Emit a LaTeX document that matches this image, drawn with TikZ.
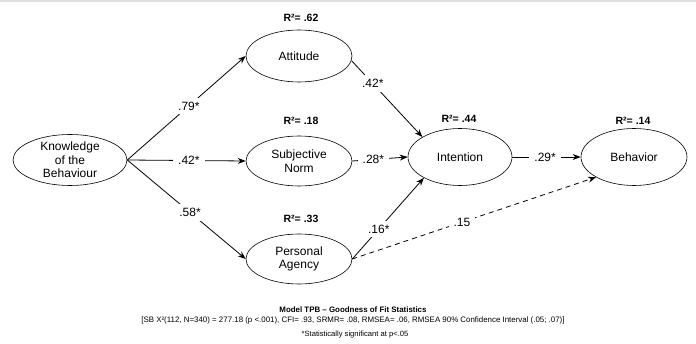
\documentclass[tikz,border=0pt]{standalone}
\usepackage{fontspec}
\setmainfont{Liberation Sans}
\usetikzlibrary{shapes.geometric,arrows.meta}
\tikzset{
  var/.style={draw, ellipse, inner sep=0pt, line width=0.6pt, font=\fontsize{12}{13.5}\selectfont, align=center},
  rsq/.style={font=\bfseries\fontsize{10.5}{12}\selectfont},
  path/.style={draw, line width=0.8pt, -{Stealth[length=8pt,width=6pt]}},
  coef/.style={fill=white, inner xsep=5pt, inner ysep=4pt, font=\fontsize{12}{13}\selectfont},
  note/.style={font=\fontsize{7.9}{8.5}\selectfont}
}
\begin{document}
\begin{tikzpicture}[x=1pt,y=-1pt]
\useasboundingbox (0,0) rectangle (696,344);
\fill[white] (0,0) rectangle (696,344);
\draw[gray!25, line width=1.2pt] (0,1) -- (696,1);

\node[var, minimum width=114pt, minimum height=51pt] (K) at (70,160) {Knowledge\\of the\\Behaviour};
\node[var, minimum width=106pt, minimum height=52pt] (A) at (299,56) {Attitude};
\node[var, minimum width=106pt, minimum height=50pt] (S) at (299,161) {Subjective\\Norm};
\node[var, minimum width=106pt, minimum height=50pt] (P) at (299,259) {Personal\\Agency};
\node[var, minimum width=104pt, minimum height=57pt] (I) at (460,157) {Intention};
\node[var, minimum width=106pt, minimum height=57pt] (B) at (634,157) {Behavior};

\node[rsq] (rA) at (301,18) {R²= .62};
\node[rsq] (rS) at (301,121) {R²= .18};
\node[rsq] (rP) at (301,219) {R²= .33};
\node[rsq] (rI) at (459,119) {R²= .44};
\node[rsq] (rB) at (633,121) {R²= .14};

\draw[path] (K.east) -- node[coef, pos=0.52] {.79*} (A.west);
\draw[path] (K.east) -- node[coef, pos=0.52] {.42*} (S.west);
\draw[path] (K.east) -- node[coef, pos=0.53] {.58*} (P.west);
\draw[path] (A.-5) -- node[coef, pos=0.3] {.42*} (I.152);
\draw[path] (S.east) -- node[coef, pos=0.38] {.28*} (I.west);
\draw[path] (P.east) -- node[coef, pos=0.37] {.16*} (I.210);
\draw[path] (I.east) -- node[coef, pos=0.48] {.29*} (B.west);
\draw[path, dashed, dash pattern=on 5pt off 4pt] (P.east) -- node[coef, pos=0.45] {.15} (B.208);

\node[note, font=\bfseries\fontsize{7.9}{8.5}\selectfont] (t1) at (353,310) {Model TPB – Goodness of Fit Statistics};
\node[note] (t2) at (353,320) {[SB X²(112, N=340) = 277.18 (p <.001), CFI= .93, SRMR= .08, RMSEA= .06, RMSEA 90\% Confidence Interval (.05; .07)]};
\node[note, font=\fontsize{7.6}{8}\selectfont] (t3) at (355,335) {*Statistically significant at p<.05};
\end{tikzpicture}
\end{document}
